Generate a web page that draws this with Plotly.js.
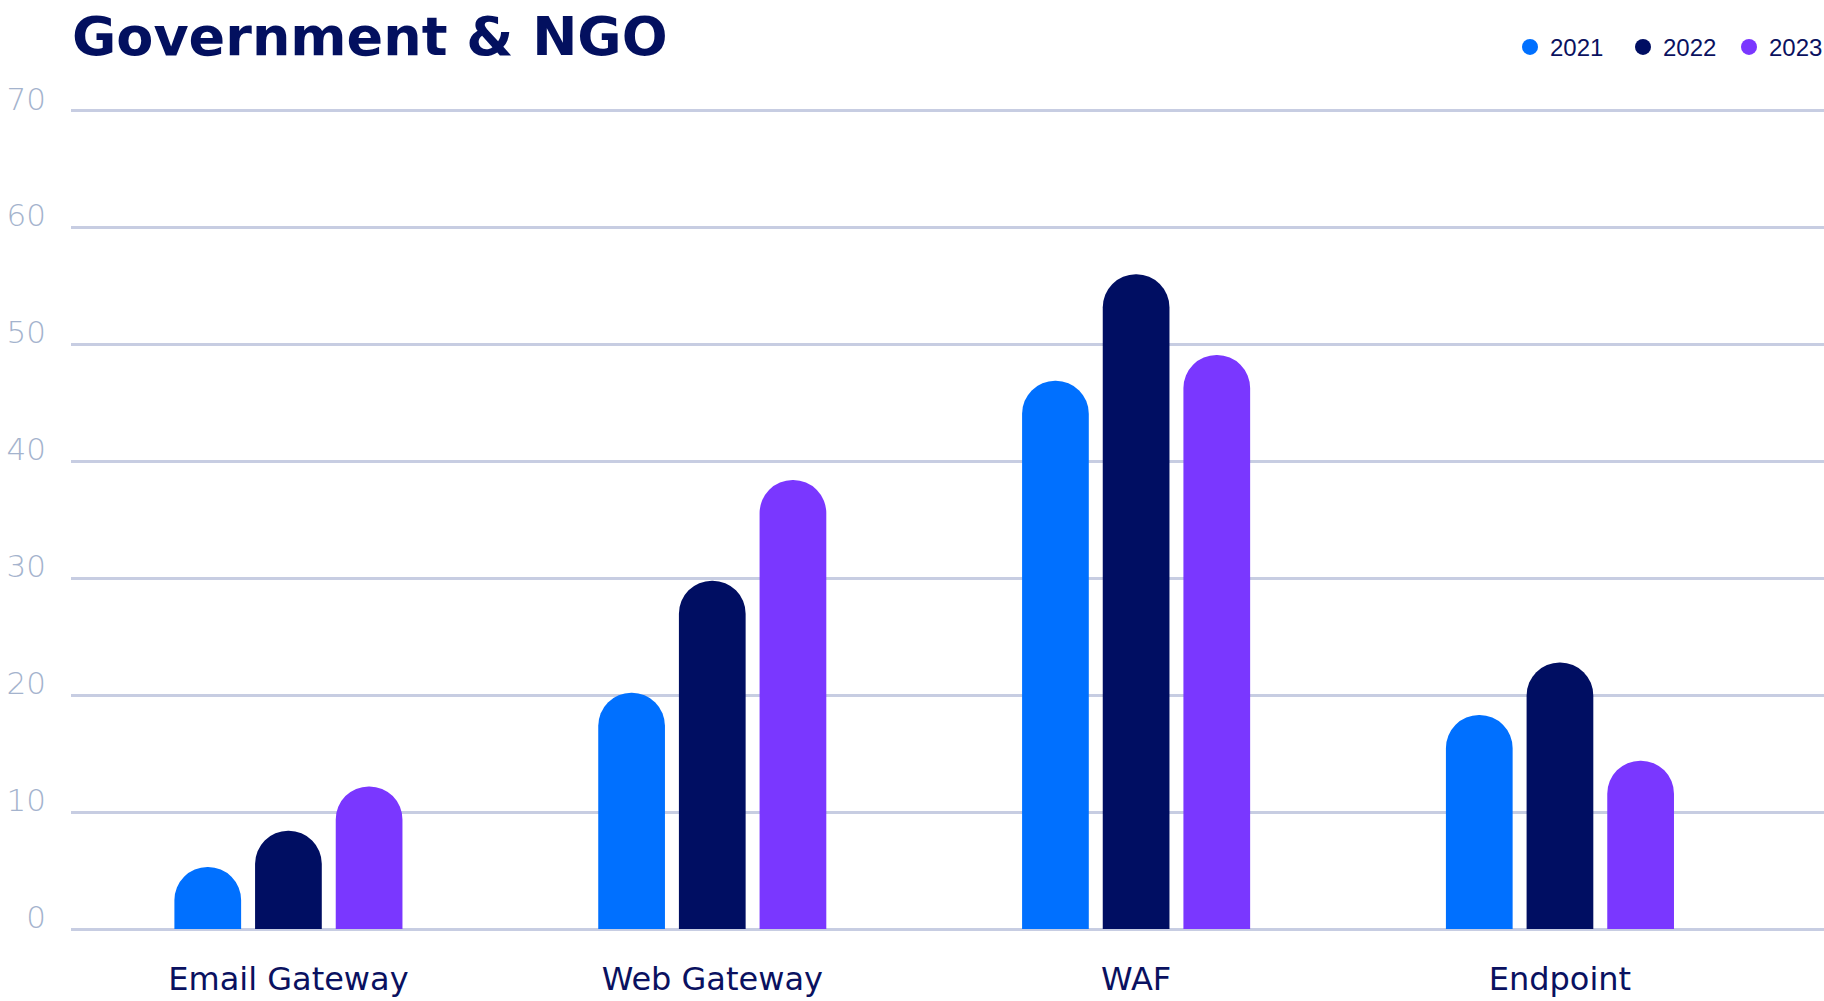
<!DOCTYPE html>
<html>
<head>
<meta charset="utf-8">
<script src="https://cdn.plot.ly/plotly-3.0.1.min.js"></script>
<style>html,body{margin:0;padding:0;background:#fff;}#chart{width:1824px;height:1001px;}</style>
</head>
<body>
<div id="chart"></div>
<script>
// ---- data ----
const categories = ["Email Gateway", "Web Gateway", "WAF", "Endpoint"];
const seriesNames = ["2021", "2022", "2023"];
const values2021 = [5.3, 20.2, 46.9, 18.3];
const values2022 = [8.4, 29.8, 56.0, 22.8];
const values2023 = [12.2, 38.4, 49.1, 14.4];
const yTickValues = [0, 10, 20, 30, 40, 50, 60, 70];
const chartTitle = "Government & NGO";

// ---- styles ----
const colors = ["#0070FF", "#000E62", "#7A37FF"];
const legendWidths = [68, 61, 60];
const seriesValues = [values2021, values2022, values2023];

const traces = [];
seriesValues.forEach((vals, i) => {
  traces.push({
    type: "bar",
    name: seriesNames[i],
    x: categories,
    y: vals,
    marker: { color: colors[i], cornerradius: "50%", line: { width: 0 } },
    showlegend: false,
    hoverinfo: "x+y+name"
  });
});
seriesNames.forEach((name, i) => {
  traces.push({
    type: "scatter",
    mode: "markers",
    name: name,
    x: [null],
    y: [null],
    marker: { color: colors[i], size: 18, symbol: "circle" },
    legendwidth: legendWidths[i],
    showlegend: true,
    hoverinfo: "skip"
  });
});

const layout = {
  width: 1824,
  height: 1001,
  paper_bgcolor: "#ffffff",
  plot_bgcolor: "#ffffff",
  margin: { l: 71, r: 0, t: 105, b: 72, autoexpand: false },
  barmode: "group",
  bargap: 0.429,
  bargroupgap: 0.173,
  title: {
    text: chartTitle,
    font: { family: "DejaVu Sans, Liberation Sans, sans-serif", size: 54, weight: 700, color: "#03105F" },
    xref: "container", yref: "container",
    x: 72 / 1824, xanchor: "left",
    y: 1 - 36.5 / 1001, yanchor: "middle"
  },
  legend: {
    orientation: "h",
    xref: "container", yref: "container",
    x: 1510 / 1824, xanchor: "left",
    y: 1 - 47.3 / 1001, yanchor: "middle",
    font: { family: "Liberation Sans, sans-serif", size: 24, color: "#0A1160" },
    bgcolor: "rgba(0,0,0,0)",
    itemclick: false
  },
  xaxis: {
    type: "category",
    range: [-0.513, 3.623],
    showgrid: false,
    zeroline: false,
    showline: false,
    ticks: "",
    ticklabelstandoff: 28,
    tickfont: { family: "DejaVu Sans, sans-serif", size: 32, color: "#0A1160" },
    fixedrange: true
  },
  yaxis: {
    range: [0, 70.488],
    tickvals: yTickValues,
    ticktext: yTickValues.map(String),
    showgrid: true,
    gridcolor: "#C7CDE2",
    gridwidth: 2.5,
    zeroline: true,
    zerolinecolor: "#C7CDE2",
    zerolinewidth: 2.5,
    showline: false,
    ticks: "",
    ticklabelstandoff: 24,
    ticklabelshift: -12,
    tickfont: { family: "DejaVu Sans, Liberation Sans, sans-serif", size: 31, weight: 200, color: "#A4B3CD" },
    fixedrange: true
  },
  hovermode: "closest"
};

Plotly.newPlot("chart", traces, layout, { displayModeBar: false, responsive: false });
</script>
</body>
</html>
